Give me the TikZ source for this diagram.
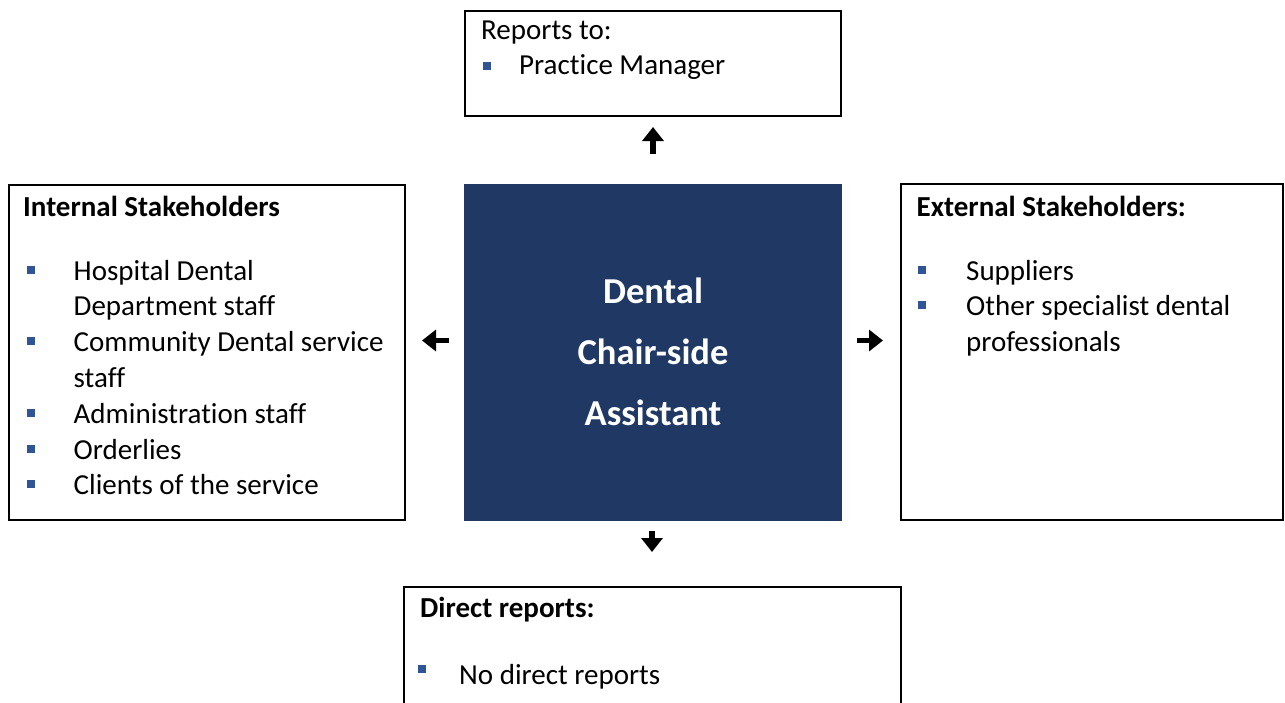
\documentclass[tikz,border=0pt]{standalone}
\usepackage{fontspec}
\setmainfont{Carlito}[Ligatures=NoCommon]
\usetikzlibrary{arrows.meta}
\definecolor{navy}{RGB}{32,56,100}
\definecolor{bulletblue}{RGB}{47,85,151}
\tikzset{
  box/.style={draw=black, line width=2.5pt, anchor=north west, inner sep=0pt, outer sep=0pt},
  txt/.style={anchor=base west, inner sep=0pt, font=\fontsize{29}{35}\selectfont},
  hd/.style={anchor=base west, inner sep=0pt, font=\fontsize{29}{35}\selectfont\bfseries},
  ctr/.style={anchor=base, inner sep=0pt, text=white, font=\fontsize{36.5}{44}\selectfont\bfseries},
  bul/.style={fill=bulletblue, minimum size=8pt, inner sep=0pt, draw=none},
  bigarrow/.style={line width=5.5pt, -{Triangle[length=14pt,width=21pt]}},
}
\begin{document}
\begin{tikzpicture}[x=1pt,y=-1pt]
\useasboundingbox (0,0) rectangle (1285,702);
\fill[white] (0,0) rectangle (1285,702);
% boxes
\node[box, minimum width=376pt, minimum height=105pt] (top) at (465,11) {};
\node[box, draw=navy, fill=navy, minimum width=376pt, minimum height=335pt] (mid) at (465,185) {};
\node[box, minimum width=396pt, minimum height=335pt] (left) at (9,185) {};
\node[box, minimum width=382pt, minimum height=336pt] (right) at (901,184) {};
\node[box, minimum width=497pt, minimum height=150pt] (bot) at (404,587) {};
% top box text
\node[txt] (rt) at (481,39) {Reports to:};
\node[bul] (bt1) at (487,65.5) {};
\node[txt] (pm) at (519,74) {Practice Manager};
% centre text
\node[ctr] (c1) at (653,303) {Dental};
\node[ctr] (c2) at (653,364) {Chair-side};
\node[ctr] (c3) at (653,425) {Assistant};
% left box
\node[hd] (ih) at (23,216) {Internal Stakeholders};
\node[bul] (bl1) at (30.5,269.5) {};
\node[txt] (l1) at (73.5,280) {Hospital Dental};
\node[txt] (l2) at (73.5,315.8) {Department staff};
\node[bul] (bl2) at (30.5,341.1) {};
\node[txt] (l3) at (73.5,351.6) {Community Dental service};
\node[txt] (l4) at (73.5,387.4) {staff};
\node[bul] (bl3) at (30.5,412.7) {};
\node[txt] (l5) at (73.5,423.2) {Administration staff};
\node[bul] (bl4) at (30.5,448.5) {};
\node[txt] (l6) at (73.5,459) {Orderlies};
\node[bul] (bl5) at (30.5,484.3) {};
\node[txt] (l7) at (73.5,494.8) {Clients of the service};
% right box
\node[hd] (eh) at (916.5,216) {External Stakeholders:};
\node[bul] (br1) at (922,269.5) {};
\node[txt] (r1) at (966,280) {Suppliers};
\node[bul] (br2) at (922,305.3) {};
\node[txt] (r2) at (966,315.8) {Other specialist dental};
\node[txt] (r3) at (966,351.6) {professionals};
% bottom box
\node[hd] (dh) at (420,617) {Direct reports:};
\node[bul] (bb1) at (421.5,669) {};
\node[txt] (b1) at (459,684) {No direct reports};
% arrows
\coordinate (upS) at (653,154);
\coordinate (upE) at (653,127);
\coordinate (lfS) at (449,340.5);
\coordinate (lfE) at (422,340.5);
\coordinate (rtS) at (857,340.5);
\coordinate (rtE) at (883,340.5);
\coordinate (dnS) at (652,531);
\coordinate (dnE) at (652,552);
\draw[bigarrow] (upS) -- (upE);
\draw[bigarrow] (lfS) -- (lfE);
\draw[bigarrow] (rtS) -- (rtE);
\draw[bigarrow] (dnS) -- (dnE);
\end{tikzpicture}
\end{document}
